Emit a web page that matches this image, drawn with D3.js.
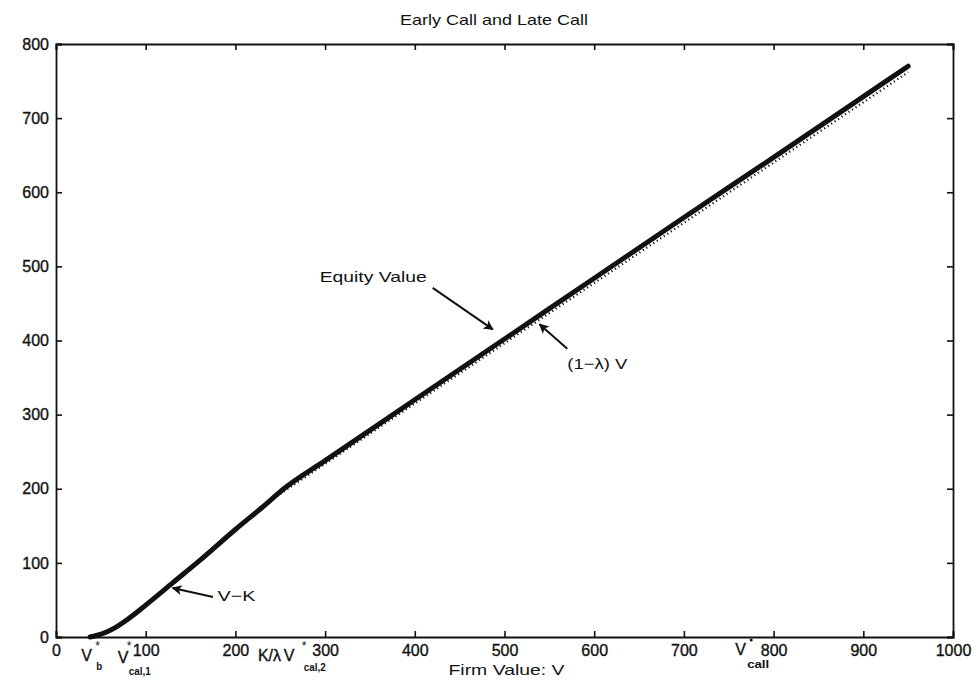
<!DOCTYPE html>
<html>
<head>
<meta charset="utf-8">
<script src="https://cdn.jsdelivr.net/npm/d3@7"></script>
<style>
  html, body { margin: 0; padding: 0; background: #fff; }
  svg text { font-family: "Liberation Sans", Arial, Helvetica, sans-serif; fill: #111; }
</style>
</head>
<body>
<svg id="chart" width="978" height="681"></svg>
<script>
// ---- data ----
const title = "Early Call and Late Call";
const xLabel = "Firm Value: V";
const xTicks = [0, 100, 200, 300, 400, 500, 600, 700, 800, 900, 1000];
const yTicks = [0, 100, 200, 300, 400, 500, 600, 700, 800];

// Equity value curve
const equityV = [38, 45, 55, 65, 80, 100, 130, 160, 200, 230, 255, 300, 400, 500, 600, 700, 800, 900, 950];
const equity  = [0, 2, 6, 12, 24, 43, 73, 103, 145, 175, 201, 238, 320, 402, 484, 566, 647, 729, 770];

// (1-lambda) V reference line (dotted)
const oneMinusLambdaV = [250, 950];
const oneMinusLambda  = [193, 762];

// special x-axis markers
const markerNames = ["Vb", "Vcal1", "Klambda", "Vcal2", "Vcall"];
const markerPos   = [45, 80, 238, 275, 775];

// annotations: label, text anchor point (data), arrow tail (data), arrow head (data)
const annLabels = ["Equity Value", "(1\u2212\u03bb) V", "V\u2212K"];
const annTextV  = [294, 570, 180];
const annTextY  = [479, 361, 49];
const annWidth  = [107, 60, 38];
const annTailV  = [420, 570, 175];
const annTailY  = [471, 389, 54];
const annHeadV  = [487, 539, 130];
const annHeadY  = [415, 422, 66];

// ---- layout ----
const svg = d3.select("#chart");
const L = 56, R = 953, T = 44, B = 637;
const x = d3.scaleLinear().domain([0, 1000]).range([L, R]);
const y = d3.scaleLinear().domain([0, 800]).range([B, T]);

svg.append("defs").append("marker")
  .attr("id", "ah").attr("viewBox", "0 0 10 10")
  .attr("refX", 9).attr("refY", 5)
  .attr("markerWidth", 6).attr("markerHeight", 5)
  .attr("markerUnits", "strokeWidth")
  .attr("orient", "auto")
  .append("path").attr("d", "M0,0 L10,5 L0,10 L2.5,5 Z").attr("fill", "#111");

// title
svg.append("text").attr("x", 494).attr("y", 25)
  .attr("text-anchor", "middle").style("font-size", "15px")
  .attr("textLength", 188).attr("lengthAdjust", "spacingAndGlyphs").text(title);

// axes (MATLAB style box with inward ticks)
const tl = 6;
const gx = svg.append("g").attr("transform", `translate(0,${B})`)
  .call(d3.axisBottom(x).tickValues(xTicks).tickSize(-tl).tickPadding(9).tickFormat(d3.format("d")));
const gy = svg.append("g").attr("transform", `translate(${L},0)`)
  .call(d3.axisLeft(y).tickValues(yTicks).tickSize(-tl).tickPadding(7).tickFormat(d3.format("d")));
const gt = svg.append("g").attr("transform", `translate(0,${T})`)
  .call(d3.axisTop(x).tickValues(xTicks).tickSize(-tl).tickFormat(""));
const gr = svg.append("g").attr("transform", `translate(${R},0)`)
  .call(d3.axisRight(y).tickValues(yTicks).tickSize(-tl).tickFormat(""));
[gx, gy, gt, gr].forEach(g => {
  g.select(".domain").attr("stroke", "#111").attr("stroke-width", 1.8);
  g.selectAll(".tick line").attr("stroke", "#111").attr("stroke-width", 1.6);
  g.selectAll(".tick text").style("font-size", "16px").attr("fill", "#111")
    .attr("stroke", "#111").attr("stroke-width", 0.35)
    .style("font-family", "'Liberation Sans', Arial, sans-serif");
});
gx.selectAll(".tick text").attr("dy", "0.62em");

// x label
svg.append("text").attr("x", (L + R) / 2 + 2).attr("y", 675)
  .attr("text-anchor", "middle").style("font-size", "15px")
  .attr("textLength", 116).attr("lengthAdjust", "spacingAndGlyphs").text(xLabel);

// dotted (1-lambda)V line
const refData = oneMinusLambdaV.map((v, i) => [v, oneMinusLambda[i]]);
svg.append("path").datum(refData)
  .attr("fill", "none").attr("stroke", "#111").attr("stroke-width", 2.2)
  .attr("stroke-dasharray", "1.2,3")
  .attr("d", d3.line().x(d => x(d[0])).y(d => y(d[1])));

// equity value curve
const eqData = equityV.map((v, i) => [v, equity[i]]);
svg.append("path").datum(eqData)
  .attr("fill", "none").attr("stroke", "#111").attr("stroke-width", 5)
  .attr("stroke-linejoin", "round").attr("stroke-linecap", "round")
  .attr("d", d3.line().curve(d3.curveMonotoneX).x(d => x(d[0])).y(d => y(d[1])));

// annotations
annLabels.forEach((lab, i) => {
  svg.append("line")
    .attr("x1", x(annTailV[i])).attr("y1", y(annTailY[i]))
    .attr("x2", x(annHeadV[i])).attr("y2", y(annHeadY[i]))
    .attr("stroke", "#111").attr("stroke-width", 2)
    .attr("marker-end", "url(#ah)");
  svg.append("text").attr("x", x(annTextV[i])).attr("y", y(annTextY[i]))
    .style("font-size", "15px")
    .attr("textLength", annWidth[i]).attr("lengthAdjust", "spacingAndGlyphs").text(lab);
});

// special axis labels
const fs = 16, fsSub = 10;
function markLabel(pos, main, sub, star, dxMain, dxSub, yMain, ySub, subW) {
  const px = x(pos);
  svg.append("text").attr("x", px + dxMain).attr("y", yMain)
    .style("font-size", fs + "px").attr("stroke", "#111").attr("stroke-width", 0.35).text(main);
  if (star) svg.append("text").attr("x", px - 1).attr("y", 650).style("font-size", "12px").text("*");
  if (sub) svg.append("text").attr("x", px + dxSub).attr("y", ySub).style("font-size", fsSub + "px")
    .style("font-weight", "bold").attr("textLength", subW).attr("lengthAdjust", "spacingAndGlyphs").text(sub);
}
markLabel(markerPos[0], "V", "b", true, -15, 0, 661, 670, 6);
markLabel(markerPos[1], "V", "cal,1", true, -10, 1, 663, 675, 22);
svg.append("text").attr("x", x(markerPos[2])).attr("y", 661)
  .attr("text-anchor", "middle").style("font-size", fs + "px")
  .attr("stroke", "#111").attr("stroke-width", 0.35).text("K/\u03bb");
markLabel(markerPos[3], "V", "cal,2", true, -19, 1, 661, 671, 22);
markLabel(markerPos[4], "V", "call", false, -16, -4, 655, 668, 22);
svg.append("circle").attr("cx", x(markerPos[4])).attr("cy", B + 3).attr("r", 1.5).attr("fill", "#111");
</script>
</body>
</html>
